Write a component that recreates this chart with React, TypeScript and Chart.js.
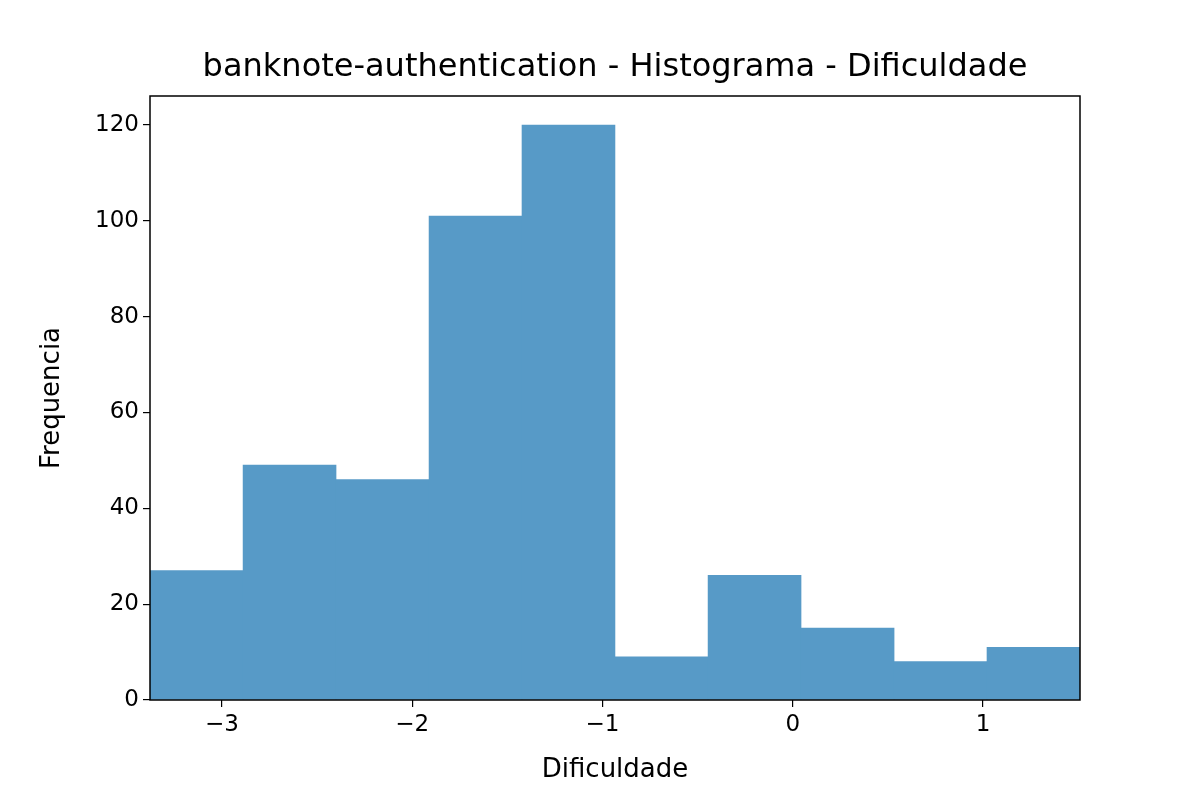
import React, { useEffect, useRef } from "react";
import { Chart, registerables } from "chart.js";
Chart.register(...registerables);

const binEdges = [-3.378, -2.889, -2.4, -1.911, -1.423, -0.934, -0.445, 0.044, 0.533, 1.021, 1.51];
const counts = [27, 49, 46, 101, 120, 9, 26, 15, 8, 11];
const xTicks = [-3, -2, -1, 0, 1];
const yTicks = [0, 20, 40, 60, 80, 100, 120];
const titleText = "banknote-authentication - Histograma - Dificuldade";

const fmt = (v: number) => (v < 0 ? "\u2212" + Math.abs(v) : String(v));

export default function App() {
  const ref = useRef<HTMLCanvasElement>(null);
  useEffect(() => {
    document.body.style.margin = "0";
    const data = counts.map((c, i) => ({ x: (binEdges[i] + binEdges[i + 1]) / 2, y: c }));
    const frame = {
      id: "frame",
      afterDraw(c: any) {
        const a = c.chartArea, ctx = c.ctx;
        ctx.save();
        ctx.strokeStyle = "#000";
        ctx.lineWidth = 1.5;
        ctx.strokeRect(a.left, a.top, a.right - a.left, a.bottom - a.top);
        ctx.fillStyle = "#000";
        ctx.font = "32px 'DejaVu Sans'";
        ctx.textAlign = "center";
        ctx.textBaseline = "middle";
        ctx.fillText(titleText, (a.left + a.right) / 2, a.top - 28);
        ctx.restore();
      },
    };
    const font = { family: "DejaVu Sans", size: 23 };
    const lfont = { family: "DejaVu Sans", size: 26 };
    const chart = new Chart(ref.current!, {
      type: "bar",
      data: {
        datasets: [{ data, backgroundColor: "rgba(87,154,199,1)", barPercentage: 1, categoryPercentage: 1, borderWidth: 0 }],
      },
      options: {
        animation: false,
        responsive: false,
        layout: { padding: { right: 120, top: 96 } },
        plugins: { legend: { display: false }, tooltip: { enabled: false } },
        scales: {
          x: {
            type: "linear",
            offset: false,
            min: binEdges[0],
            max: binEdges[binEdges.length - 1],
            afterBuildTicks: (s: any) => { s.ticks = xTicks.map((v) => ({ value: v })); },
            afterFit: (s: any) => { s.height = 100; },
            grid: { offset: false, drawOnChartArea: false, tickLength: 7, color: "#000", lineWidth: 1.2 },
            border: { display: false },
            ticks: { color: "#000", font, callback: (v: any) => fmt(Number(v)), maxRotation: 0, padding: 4 },
            title: { display: true, text: "Dificuldade", color: "#000", font: lfont, padding: { top: 14, bottom: 14 } },
          },
          y: {
            min: 0,
            max: 126.05,
            afterBuildTicks: (s: any) => { s.ticks = yTicks.map((v) => ({ value: v })); },
            afterFit: (s: any) => { s.width = 150; },
            grid: { drawOnChartArea: false, tickLength: 7, color: "#000", lineWidth: 1.2 },
            border: { display: false },
            ticks: { color: "#000", font, callback: (v: any) => fmt(Number(v)), padding: 4 },
            title: { display: true, text: "Frequencia", color: "#000", font: lfont, padding: { top: 37, bottom: 37 } },
          },
        },
      },
      plugins: [frame],
    } as any);
    return () => chart.destroy();
  }, []);
  return <canvas ref={ref} width={1200} height={800} style={{ display: "block" }} />;
}
